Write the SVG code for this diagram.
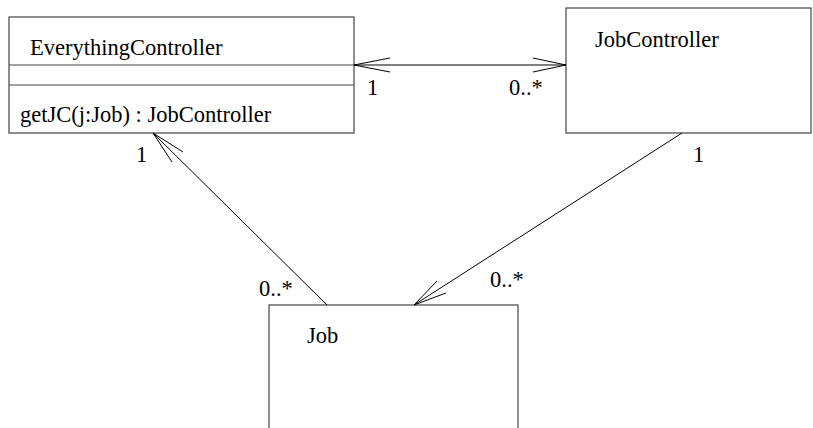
<svg xmlns="http://www.w3.org/2000/svg" width="813" height="428" viewBox="0 0 813 428">
<style>
.box{fill:#fff;stroke:#444;stroke-width:1.2}
.c{stroke:#000;stroke-width:1;fill:none}
.t{font-family:"Liberation Serif","Times New Roman",serif;font-size:22.5px;fill:#000}
</style>
<rect width="813" height="428" fill="#fff"/>
<g id="EverythingController">
<rect class="box" x="9" y="17" width="345" height="116"/>
<line class="box" x1="9" y1="65" x2="354" y2="65"/>
<line class="box" x1="9" y1="85" x2="354" y2="85"/>
<text class="t" x="30" y="55">EverythingController</text>
<text class="t" x="20" y="122">getJC(j:Job) : JobController</text>
</g>
<g id="JobController">
<rect class="box" x="566" y="8" width="245" height="125"/>
<text class="t" x="595" y="47">JobController</text>
</g>
<g id="Job">
<rect class="box" x="269" y="305" width="249" height="140"/>
<text class="t" x="307" y="343">Job</text>
</g>
<g id="connectors">
<line class="c" x1="354" y1="65" x2="566" y2="65"/>
<polyline class="c" points="390,58 354,65 390,72"/>
<polyline class="c" points="533,58 566,65 533,72"/>
<line class="c" x1="682" y1="133" x2="414" y2="305"/>
<polyline class="c" points="437,281 414,305 446,293"/>
<line class="c" x1="327" y1="305" x2="153" y2="133"/>
<polyline class="c" points="183,152 153,133 172,162"/>
<text class="t" x="367" y="95">1</text>
<text class="t" x="509" y="95">0..*</text>
<text class="t" x="693" y="162">1</text>
<text class="t" x="490" y="287">0..*</text>
<text class="t" x="136" y="162">1</text>
<text class="t" x="259" y="296">0..*</text>
</g>
</svg>
